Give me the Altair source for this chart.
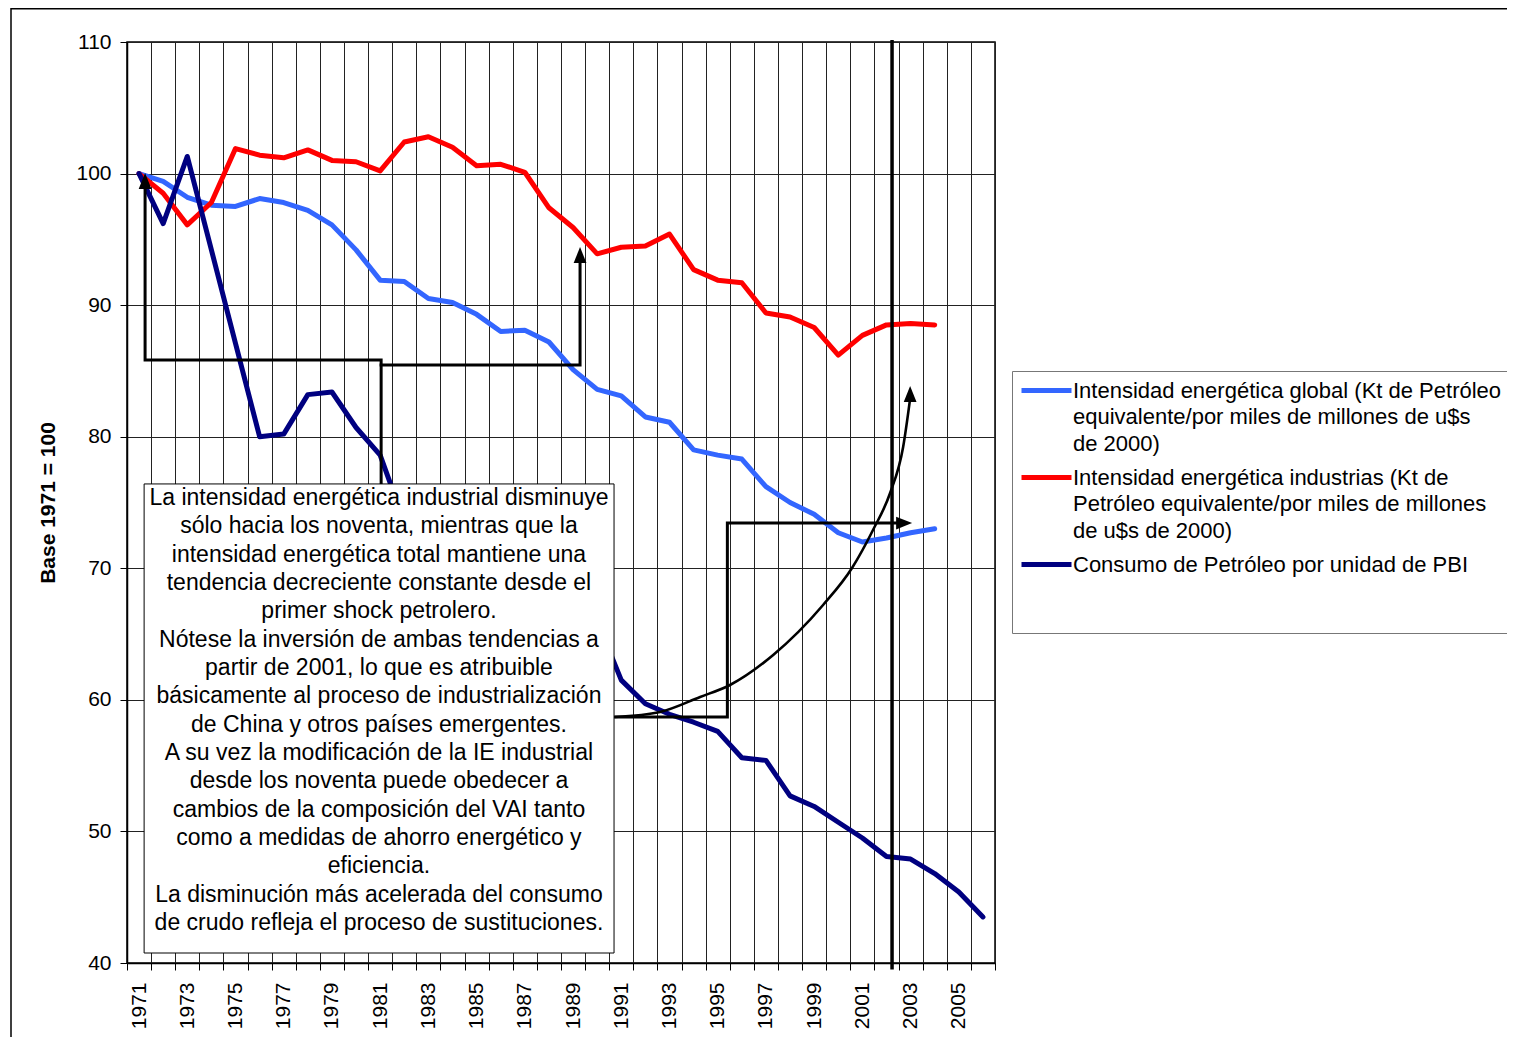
import altair as alt
import pandas as pd

# ---------------- data ----------------
years = list(range(1971, 2007))

global_ie = [100, 99.4, 98.2, 97.6, 97.5, 98.1, 97.8, 97.2, 96.1, 94.2,
             91.9, 91.8, 90.5, 90.2, 89.3, 88.0, 88.1, 87.2, 85.1, 83.6,
             83.1, 81.5, 81.1, 79.0, 78.6, 78.3, 76.2, 75.0, 74.1, 72.7,
             72.0, 72.3, 72.7, 73.0]

industry_ie = [100, 98.5, 96.1, 97.8, 101.9, 101.4, 101.2, 101.8, 101.0, 100.9,
               100.2, 102.4, 102.8, 102.0, 100.6, 100.7, 100.1, 97.4, 95.9, 93.9,
               94.4, 94.5, 95.4, 92.7, 91.9, 91.7, 89.4, 89.1, 88.3, 86.2,
               87.7, 88.5, 88.6, 88.5]

oil = [100, 96.2, 101.3, 94.2, 87.1, 80.0, 80.2, 83.2, 83.4, 80.7,
       78.6, 73.5, 71.5, 70.5, 69.5, 68.8, 68.5, 67.8, 67.0, 66.0,
       61.5, 59.7, 58.9, 58.3, 57.6, 55.6, 55.4, 52.7, 51.9, 50.7,
       49.5, 48.1, 47.9, 46.8, 45.4, 43.5]

series_names = [
    "Intensidad energética global (Kt de Petróleo equivalente/por miles de millones de u$s de 2000)",
    "Intensidad energética industrias (Kt de Petróleo equivalente/por miles de millones de u$s de 2000)",
    "Consumo de Petróleo por unidad de PBI",
]
legend_lines = [
    ["Intensidad energética global (Kt de Petróleo",
     "equivalente/por miles de millones de u$s",
     "de 2000)"],
    ["Intensidad energética industrias (Kt de",
     "Petróleo equivalente/por miles de millones",
     "de u$s de 2000)"],
    ["Consumo de Petróleo por unidad de PBI"],
]
series_colors = ["#3366FF", "#FF0000", "#000080"]

y_ticks = [40, 50, 60, 70, 80, 90, 100, 110]
y_title = "Base 1971 = 100"

note_lines = [
    "La intensidad energética industrial disminuye",
    "sólo hacia los noventa, mientras que la",
    "intensidad energética total mantiene una",
    "tendencia decreciente constante desde el",
    "primer shock petrolero.",
    "Nótese la inversión de ambas tendencias a",
    "partir de 2001, lo que es atribuible",
    "básicamente al proceso de industrialización",
    "de China y otros países emergentes.",
    "A su vez la modificación de la IE industrial",
    "desde los noventa puede obedecer a",
    "cambios de la composición del VAI tanto",
    "como a medidas de ahorro energético y",
    "eficiencia.",
    "La disminución más acelerada del consumo",
    "de crudo refleja el proceso de sustituciones.",
]

# annotation drawing (in data units: year, index value)
path_a_year = [1971.25, 1971.25, 1981.04, 1981.04]
path_a_val = [99.4, 85.83, 85.83, 76.0]
path_b_year = [1981.04, 1989.29, 1989.29]
path_b_val = [85.45, 85.45, 93.8]
path_c_year = [1990.70, 1995.40, 1995.40, 2002.70]
path_c_val = [58.70, 58.70, 73.44, 73.44]

curve_year = [1990.74, 1992.61, 1994.27, 1995.51, 1997.30, 1999.37, 2000.57,
              2001.44, 2002.15, 2002.69, 2002.98]
curve_val = [58.70, 59.08, 60.22, 61.13, 63.41, 67.21, 70.02,
             72.91, 75.72, 79.22, 82.90]

head_year = [1971.25, 1989.29, 2002.73, 2002.98]
head_val = [99.43, 93.81, 73.44, 83.25]
head_dir = ["up", "up", "right", "up"]

marker_year = 2002.23          # thick vertical line
box_year = [1971.21, 1990.70]  # note box extent
box_val = [76.41, 40.76]
note_anchor = (1980.95, 76.18)

# ---------------- tables ----------------
rows = []
for name, vals in zip(series_names, [global_ie, industry_ie, oil]):
    for yr, v in zip(years, vals):
        rows.append({"series": name, "year": yr, "value": v})
df = pd.DataFrame(rows)

prow = []
for sname, ys, vs in [("A", path_a_year, path_a_val), ("B", path_b_year, path_b_val),
                      ("C", path_c_year, path_c_val)]:
    for i, (a, b) in enumerate(zip(ys, vs)):
        prow.append({"shape": sname, "i": i, "year": a, "value": b})
paths_df = pd.DataFrame(prow)
curve_df = pd.DataFrame({"i": range(len(curve_year)), "year": curve_year, "value": curve_val})
heads_df = pd.DataFrame({"year": head_year, "value": head_val, "dir": head_dir})
marker_df = pd.DataFrame({"year": [marker_year], "value": [110.15], "value2": [39.5]})
box_df = pd.DataFrame({"year": [box_year[0]], "year2": [box_year[1]],
                       "value": [box_val[0]], "value2": [box_val[1]]})
note_df = pd.DataFrame({"year": [note_anchor[0]], "value": [note_anchor[1]],
                        "txt": ["\n".join(note_lines)]})
one_df = pd.DataFrame({"k": [0]})

# ---------------- scales & axes ----------------
FONT = "Liberation Sans"
boundaries = [y - 0.5 for y in years] + [years[-1] + 0.5]
xscale = alt.Scale(domain=[boundaries[0], boundaries[-1]], nice=False, zero=False)
yscale = alt.Scale(domain=[40, 110], nice=False, zero=False)

xaxis = alt.Axis(values=boundaries, grid=True, gridColor="#222222", gridWidth=1,
                 tickSize=7, tickColor="black", domainColor="black", domainWidth=1.5,
                 labelExpr="((datum.value + 0.5) % 2 == 1) && (datum.value < 2006) ? format(datum.value + 0.5, 'd') : ''",
                 labelAngle=-90, labelAlign="right", labelBaseline="middle",
                 labelOffset=12, labelPadding=12, labelFontSize=21, labelColor="black",
                 labelOverlap=False, labelFont=FONT)
yaxis = alt.Axis(values=y_ticks, grid=True, gridColor="#222222", gridWidth=1,
                 tickSize=7, tickColor="black", domainColor="black", domainWidth=1.5,
                 labelFontSize=21, labelPadding=9, labelColor="black", labelFont=FONT,
                 titleFontSize=21, titleFontWeight="bold", titleFont=FONT, titleColor="black",
                 titleX=-79, titleY=460.5, titleBaseline="middle", titleAngle=270)


def X(field="year"):
    return alt.X(f"{field}:Q", scale=xscale, axis=xaxis, title=None)


def Y(field="value"):
    return alt.Y(f"{field}:Q", scale=yscale, axis=yaxis, title=y_title)


def js(s):
    return "'" + s.replace("\\", "\\\\").replace("'", "\\'") + "'"


label_expr = "datum.label"
for name, lines in reversed(list(zip(series_names, legend_lines))):
    arr = "[" + ", ".join(js(l) for l in lines) + "]"
    label_expr = f"datum.label == {js(name)} ? {arr} : ({label_expr})"

# a 50 px stroke drawn from a small symbol box keeps the first label line near the entry top
legend_symbol = "M-2.5,0L2.5,0"
legend = alt.Legend(orient="none", legendX=885, legendY=329, title=" ",
                    titleOrient="bottom", titlePadding=40, titleFontSize=10,
                    symbolType=legend_symbol, symbolStrokeWidth=5, symbolSize=400,
                    symbolOffset=15,
                    labelFontSize=22, labelFont=FONT, labelColor="black",
                    labelBaseline="middle",
                    labelLimit=800, labelOffset=14, labelExpr=label_expr,
                    padding=7, strokeColor="#777777", fillColor="white",
                    rowPadding=10)

# ---------------- layers ----------------
lines = alt.Chart(df).mark_line(strokeWidth=5, strokeJoin="round", strokeCap="round").encode(
    x=X(), y=Y(),
    color=alt.Color("series:N", scale=alt.Scale(domain=series_names, range=series_colors),
                    legend=legend),
)

paths = alt.Chart(paths_df).mark_line(color="black", strokeWidth=3, strokeCap="square").encode(
    x=X(), y=Y(), detail="shape:N", order="i:Q")

curve = alt.Chart(curve_df).mark_line(color="black", strokeWidth=2.6, interpolate="monotone").encode(
    x=X(), y=Y(), order="i:Q")

up_path = "M0,-1L-0.8,1L0.8,1Z"
right_path = "M1,0L-1,-0.8L-1,0.8Z"
heads = alt.Chart(heads_df).mark_point(filled=True, color="black", opacity=1, size=256).encode(
    x=X(), y=Y(),
    shape=alt.Shape("dir:N", scale=alt.Scale(domain=["up", "right"], range=[up_path, right_path]),
                    legend=None))

marker = alt.Chart(marker_df).mark_rule(color="black", strokeWidth=3.5).encode(
    x=X(), y=Y(), y2="value2:Q")

box = alt.Chart(box_df).mark_rect(fill="white", stroke="black", strokeWidth=1).encode(
    x=X(), x2="year2:Q", y=Y(), y2="value2:Q")

note = alt.Chart(note_df).mark_text(align="center", baseline="top", fontSize=23, font=FONT,
                                    lineHeight=28.33, lineBreak="\n", color="black").encode(
    x=X(), y=Y(), text="txt:N")

frame = alt.Chart(one_df).mark_rect(fillOpacity=0, stroke="black", strokeWidth=1.5).encode(
    x=alt.value(-116), x2=alt.value(1420), y=alt.value(-33.2), y2=alt.value(1060))

chart = alt.layer(lines, paths, curve, heads, marker, box, note, frame).properties(
    width=868, height=921,
    autosize=alt.AutoSizeParams(type="none"),
    padding={"left": 119, "top": 34, "right": 512, "bottom": 74},
    background="white",
).configure(
    font=FONT,
    style={"guide-label": {"lineHeight": 26.5}},
).configure_view(stroke="black", strokeWidth=1.5)

chart.save("out.html", embed_options={"renderer": "svg", "actions": False})
